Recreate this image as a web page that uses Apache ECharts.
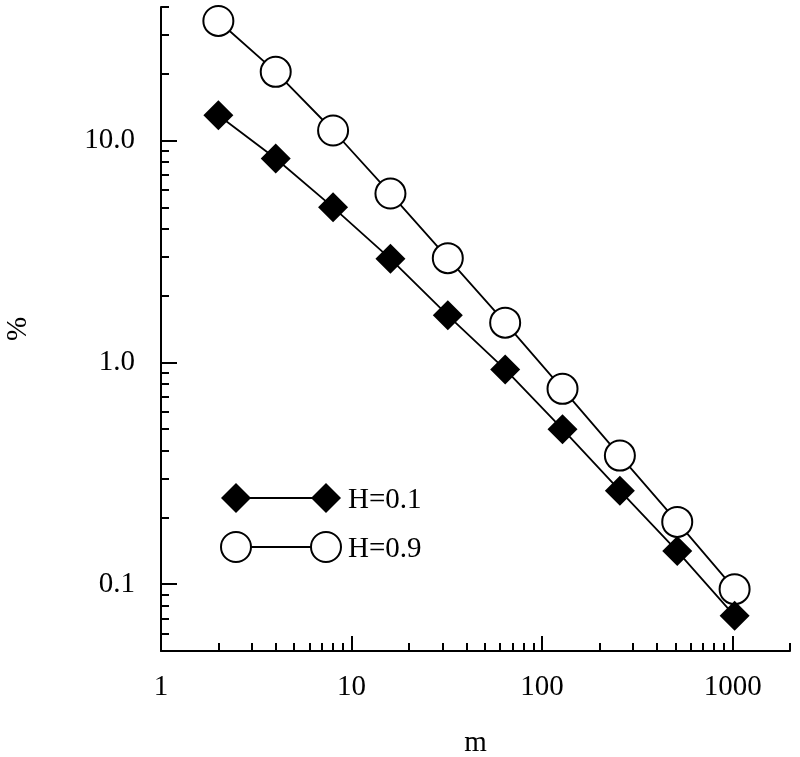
<!DOCTYPE html>
<html>
<head>
<meta charset="utf-8">
<script src="https://cdn.jsdelivr.net/npm/echarts@6/dist/echarts.min.js"></script>
<style>html,body{margin:0;padding:0;background:#fff;}#c{width:800px;height:757px;}</style>
</head>
<body>
<div id="c"></div>
<script>
var mValues = [2, 4, 8, 16, 32, 64, 128, 256, 512, 1024];
var h01 = [13.0, 8.3, 5.0, 2.93, 1.63, 0.93, 0.50, 0.264, 0.141, 0.072];
var h09 = [34.6, 20.4, 11.1, 5.77, 2.95, 1.51, 0.76, 0.38, 0.191, 0.095];
var xMajorTicks = [1, 10, 100, 1000];
var xMinorTicks = [2,3,4,5,6,7,8,9,20,30,40,50,60,70,80,90,200,300,400,500,600,700,800,900,2000];
var yMajorTicks = [0.1, 1, 10];
var yMinorTicks = [0.06,0.07,0.08,0.09,0.2,0.3,0.4,0.5,0.6,0.7,0.8,0.9,2,3,4,5,6,7,8,9,20,30,40];
var legendNames = ['H=0.1', 'H=0.9'];

var FONT = 'Liberation Serif';
var chart = echarts.init(document.getElementById('c'));
function pairs(xs, ys){ return xs.map(function(x,i){ return [x, ys[i]]; }); }
var axisLine = {show: true, lineStyle: {color: '#000', width: 2}};
var option = {
  animation: false,
  backgroundColor: '#fff',
  grid: {left: 161, right: 10, top: 7, bottom: 106, containLabel: false, outerBoundsMode: 'none'},
  xAxis: [{
    type: 'log', logBase: 10, min: 1, max: 2000,
    name: 'm', nameLocation: 'middle', nameGap: 78,
    nameTextStyle: {fontFamily: FONT, fontSize: 29, color: '#000'},
    axisLine: axisLine,
    axisTick: {show: true, inside: true, length: 15, lineStyle: {color: '#000', width: 2}, customValues: xMajorTicks},
    axisLabel: {show: true, margin: 22, fontFamily: FONT, fontSize: 29, color: '#000', customValues: xMajorTicks,
      formatter: function(v){ return String(Math.round(v)); }},
    splitLine: {show: false}, minorTick: {show: false}
  }, {
    type: 'log', logBase: 10, min: 1, max: 2000, position: 'bottom', gridIndex: 0, offset: 0,
    axisLine: {show: false},
    axisTick: {show: true, inside: true, length: 8, lineStyle: {color: '#000', width: 2}, customValues: xMinorTicks},
    axisLabel: {show: false}, splitLine: {show: false}
  }],
  yAxis: [{
    type: 'log', logBase: 10, min: 0.05, max: 40,
    name: '%', nameLocation: 'middle', nameGap: 128, nameRotate: 90,
    nameTextStyle: {fontFamily: FONT, fontSize: 29, color: '#000'},
    axisLine: axisLine,
    axisTick: {show: true, inside: true, length: 16, lineStyle: {color: '#000', width: 2}, customValues: yMajorTicks},
    axisLabel: {show: true, margin: 26, fontFamily: FONT, fontSize: 29, color: '#000', customValues: yMajorTicks,
      formatter: function(v){ return v.toFixed(1); }},
    splitLine: {show: false}, minorTick: {show: false}
  }, {
    type: 'log', logBase: 10, min: 0.05, max: 40, position: 'left', gridIndex: 0, offset: 0,
    axisLine: {show: false},
    axisTick: {show: true, inside: true, length: 8, lineStyle: {color: '#000', width: 2}, customValues: yMinorTicks},
    axisLabel: {show: false}, splitLine: {show: false}
  }],
  series: [{
    name: legendNames[1], type: 'line', xAxisIndex: 0, yAxisIndex: 0,
    data: pairs(mValues, h09),
    symbol: 'circle', symbolSize: 30,
    lineStyle: {color: '#000', width: 1.8},
    itemStyle: {color: '#fff', borderColor: '#000', borderWidth: 2},
    z: 2
  }, {
    name: legendNames[0], type: 'line', xAxisIndex: 0, yAxisIndex: 0,
    data: pairs(mValues, h01),
    symbol: 'diamond', symbolSize: 30,
    lineStyle: {color: '#000', width: 1.8},
    itemStyle: {color: '#000', borderColor: '#000', borderWidth: 0},
    z: 3
  }],
  graphic: [
    {type: 'line', shape: {x1: 236, y1: 498, x2: 326, y2: 498}, style: {stroke: '#000', lineWidth: 1.8}},
    {type: 'polygon', shape: {points: [[236,483],[251,498],[236,513],[221,498]]}, style: {fill: '#000'}},
    {type: 'polygon', shape: {points: [[326,483],[341,498],[326,513],[311,498]]}, style: {fill: '#000'}},
    {type: 'text', left: 348, top: 486, style: {text: legendNames[0], font: '29px "Liberation Serif"', fill: '#000'}},
    {type: 'line', shape: {x1: 236, y1: 547, x2: 326, y2: 547}, style: {stroke: '#000', lineWidth: 1.8}},
    {type: 'circle', shape: {cx: 236, cy: 547, r: 15}, style: {fill: '#fff', stroke: '#000', lineWidth: 2}},
    {type: 'circle', shape: {cx: 326, cy: 547, r: 15}, style: {fill: '#fff', stroke: '#000', lineWidth: 2}},
    {type: 'text', left: 348, top: 535, style: {text: legendNames[1], font: '29px "Liberation Serif"', fill: '#000'}}
  ]
};
chart.setOption(option);
</script>
</body>
</html>
